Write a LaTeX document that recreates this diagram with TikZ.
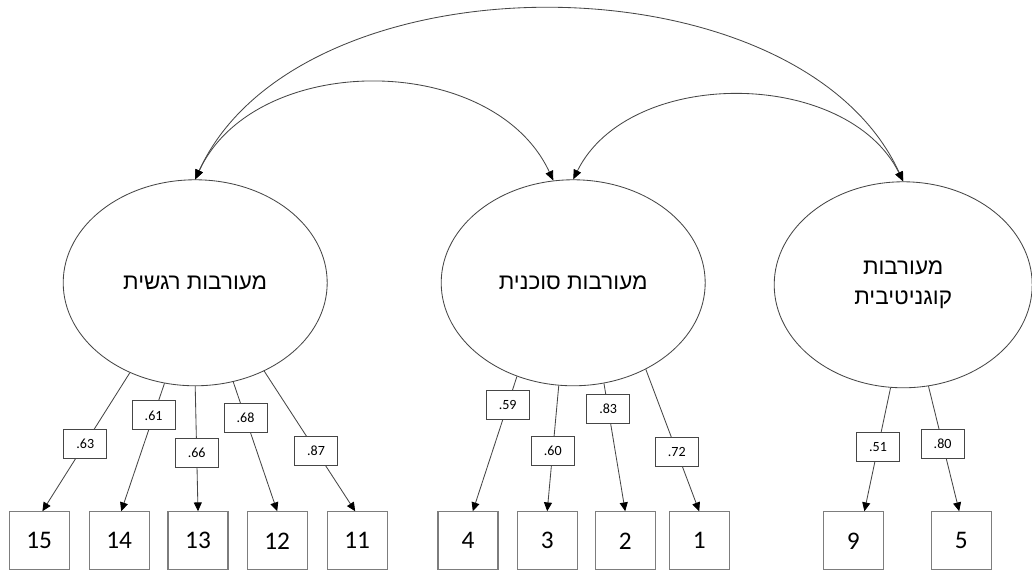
\documentclass[tikz,border=0pt]{standalone}
\usepackage{fontspec}
\setmainfont{Carlito}
\newfontfamily\hebfont[Script=Hebrew]{Liberation Sans}
\TeXXeTstate=1
\usepackage{tikz}
\usetikzlibrary{arrows.meta,shapes.geometric}
\definecolor{LineGray}{RGB}{70,70,70}
\definecolor{BoxGray}{RGB}{125,125,125}

\begin{document}
\begin{tikzpicture}[
  latent/.style={
    draw=LineGray,
    ellipse,
    minimum width=6.6cm,
    minimum height=5.15cm,
    inner sep=0pt,
    align=center,
    font=\hebfont\fontsize{16}{22}\selectfont,
    line width=0.6pt
  },
  item/.style={
    draw=BoxGray,
    minimum width=1.5cm,
    minimum height=1.45cm,
    inner sep=0pt,
    font=\fontsize{18}{20}\selectfont,
    line width=0.8pt
  },
  load/.style={
    draw,
    fill=white,
    minimum width=1.075cm,
    minimum height=0.725cm,
    inner sep=0pt,
    font=\fontsize{10}{11}\selectfont,
    line width=0.5pt
  },
  arr/.style={-{Triangle[length=2.2mm,width=2mm,color=black]}, draw=LineGray, line width=0.6pt},
  cov/.style={{Triangle[length=2.4mm,width=2mm,color=black]}-{Triangle[length=2.4mm,width=2mm,color=black]}, draw=LineGray, line width=0.6pt}
]
\useasboundingbox (0,0) rectangle (25.8,14.3);

\node[latent] (regesh) at (4.88,7.23) {\beginR מעורבות רגשית\endR};
\node[latent] (sensor) at (14.33,7.23) {\beginR מעורבות סוכנית\endR};
\node[latent,minimum width=6.45cm] (kogn) at (22.58,7.18) {\beginR מעורבות\endR\\\beginR קוגניטיבית\endR};

\node[item] (i15) at (0.98,0.78) {15};
\node[item] (i14) at (2.98,0.78) {14};
\node[item] (i13) at (4.95,0.78) {13};
\node[item] (i12) at (6.93,0.78) {12};
\node[item] (i11) at (8.93,0.78) {11};
\node[item] (i4) at (11.70,0.78) {4};
\node[item] (i3) at (13.68,0.78) {3};
\node[item] (i2) at (15.63,0.78) {2};
\node[item] (i1) at (17.48,0.78) {1};
\node[item] (i9) at (21.33,0.78) {9};
\node[item] (i5) at (24.03,0.78) {5};

% covariances
\draw[cov] (regesh.north) .. controls +(2.6,5.7) and +(-2.6,5.7) .. (kogn.north);
\draw[cov] (regesh.north) .. controls +(1.5,3.23) and +(-1.5,3.23) .. (sensor.101);
\draw[cov] (sensor.north) .. controls +(1.4,2.83) and +(-1.4,2.83) .. (kogn.north);

% loadings
\draw[arr] (regesh.234) -- node[load,pos=0.51]{.63} ([xshift=0.08cm]i15.north);
\draw[arr] (regesh.253) -- node[load,pos=0.25]{.61} ([xshift=0.05cm]i14.north);
\draw[arr] (regesh.270) -- node[load,pos=0.53]{.66} (i13.north);
\draw[arr] (regesh.291) -- node[load,pos=0.28]{.68} (i12.north);
\draw[arr] (regesh.308) -- node[load,pos=0.57]{.87} ([xshift=-0.05cm]i11.north);

\draw[arr] (sensor.239) -- node[load,pos=0.21]{.59} ([xshift=0.12cm]i4.north);
\draw[arr] (sensor.262) -- node[load,pos=0.52]{.60} (i3.north);
\draw[arr] (sensor.287) -- node[load,pos=0.20]{.83} (i2.north);
\draw[arr] (sensor.310) -- node[load,pos=0.58]{.72} (i1.north);

\draw[arr] (kogn.263) -- node[load,pos=0.48]{.51} ([xshift=0.28cm]i9.north);
\draw[arr] (kogn.284) -- node[load,pos=0.46]{.80} ([xshift=-0.05cm]i5.north);
\end{tikzpicture}
\end{document}
